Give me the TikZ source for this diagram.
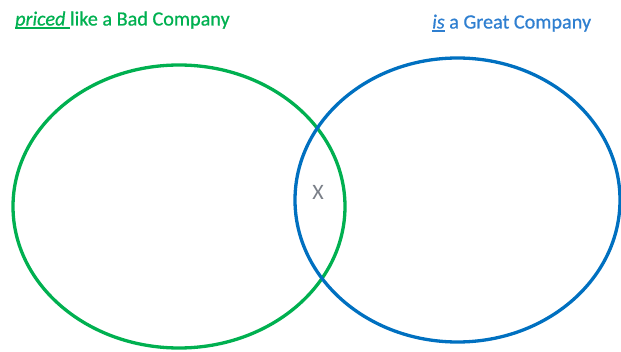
\documentclass[tikz,border=0pt]{standalone}
\usepackage{fontspec}
\setmainfont{Carlito}
\usepackage{tikz}

\definecolor{badgreen}{HTML}{00B050}
\definecolor{greatblue}{HTML}{0070C0}
\definecolor{textblue}{HTML}{2F7FD0}
\definecolor{markgray}{HTML}{7A7F88}

% thick underline, as wide as the word
\newcommand{\thickul}[1]{\setbox0\hbox{#1}\rlap{\rule[-3.4pt]{\wd0}{1.8pt}}\box0\relax}

\begin{document}
\begin{tikzpicture}[x=1pt,y=1pt,
    setlabel/.style={anchor=base west,inner sep=0pt,
      font=\fontsize{20.2}{24}\selectfont\addfontfeature{FakeBold=0.7}},
    setline/.style={line width=3.3pt}]
        \useasboundingbox (0,0) rectangle (621,351);
        % the two sets
        \draw[setline,color=badgreen] (179,144.5) ellipse [x radius=166,y radius=141.5];
        \draw[setline,color=greatblue] (457.5,151) ellipse [x radius=162.5,y radius=142];
        % titles above them
        \node[setlabel,text=badgreen] (badlabel) at (15,325.5)
          {\thickul{\itshape priced }like a Bad Company};
        \node[setlabel,text=textblue] (greatlabel) at (432,322.5)
          {\thickul{\itshape is} a Great Company};
        % the overlap
        \node[text=markgray,font=\fontsize{22}{26}\selectfont] (overlap) at (318,159) {X};
      \end{tikzpicture}
\end{document}
